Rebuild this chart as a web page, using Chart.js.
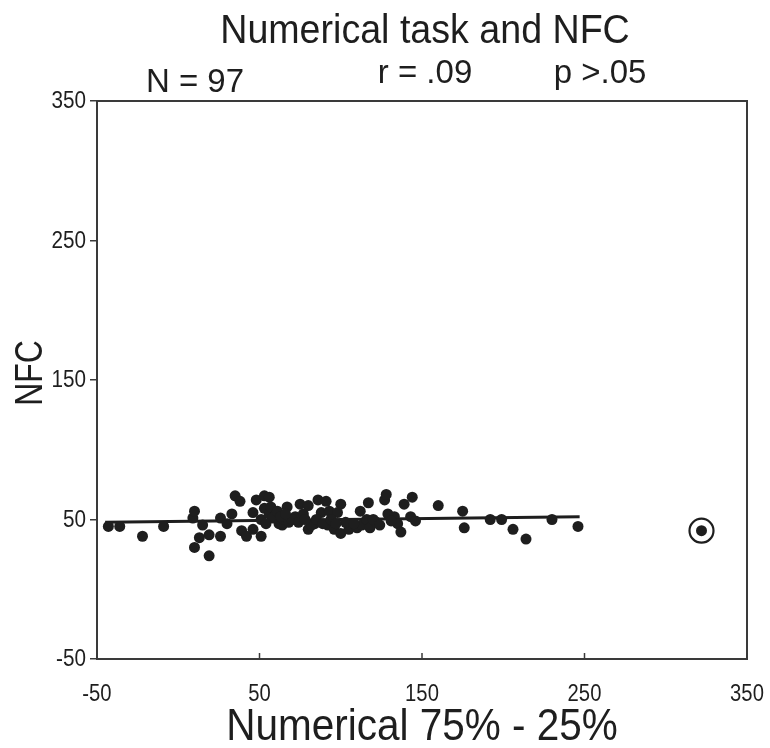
<!DOCTYPE html>
<html>
<head>
<meta charset="utf-8">
<script src="https://cdn.jsdelivr.net/npm/chart.js@4/dist/chart.umd.min.js"></script>
<style>
  html, body { margin: 0; padding: 0; background: #fff; }
  #wrap { width: 770px; height: 748px; }
</style>
</head>
<body>
<div id="wrap"><canvas id="c" width="770" height="748"></canvas></div>
<script>
// Participants: numerical spread (75% - 25%) against NFC score
const numericalSpread = [
  -43, -36, -22, -9, 9, 10, 10, 13, 15, 19, 19, 26, 26, 30, 33, 35, 38, 39, 42, 46,
  46, 48, 51, 51, 53, 53, 56, 56, 57, 60, 62, 64, 65, 67, 68, 72, 75, 80, 80, 84,
  86, 88, 91, 92, 93, 96, 98, 100, 100, 105, 110, 112, 113, 117, 116, 118, 122, 127, 128, 129,
  133, 135, 137, 139, 144, 143, 146, 160, 175, 176, 192, 199, 206, 214, 230, 246,
  58, 61, 63, 70, 74, 77, 82, 85, 89, 94, 103, 108, 120, 124, 131, 54, 66, 78, 97, 322
];
const nfcScore = [
  45, 45, 38, 45, 51, 56, 30, 37, 46, 39, 24, 38, 51, 47, 54, 67, 63, 42, 38, 43,
  55, 64, 38, 50, 67, 58, 66, 54, 59, 53, 47, 46, 50, 59, 48, 52, 61, 60, 43, 47,
  64, 55, 63, 46, 56, 43, 55, 61, 40, 43, 44, 56, 46, 62, 50, 44, 48, 64, 68, 54,
  52, 47, 41, 61, 66, 52, 49, 60, 56, 44, 50, 50, 43, 36, 50, 45,
  51, 56, 52, 50, 48, 54, 46, 50, 47, 50, 48, 47, 50, 46, 49, 47, 54, 50, 47, 42
];
// Flagged outlier (drawn with a ring)
const outlierX = [322];
const outlierY = [42];
// Least-squares fit line endpoints
const fitX = [-45, 247];
const fitY = [48, 52];
const axisTicks = [-50, 50, 150, 250, 350];

const titleText = 'Numerical task and NFC';
const statN = 'N = 97';
const statR = 'r = .09';
const statP = 'p >.05';
const xTitle = 'Numerical 75% - 25%';
const yTitle = 'NFC';

const FONT = '"Liberation Sans", Arial, sans-serif';
const INK = '#1e1e1e';
const AXIS = '#3a3a3a';

const points = numericalSpread.map((x, i) => ({ x, y: nfcScore[i] }));
const ring = outlierX.map((x, i) => ({ x, y: outlierY[i] }));
const fit = fitX.map((x, i) => ({ x, y: fitY[i] }));

// Text in a horizontally condensed face
function condensed(ctx, text, x, y, size, squeeze, align, rotate) {
  ctx.save();
  ctx.translate(x, y);
  if (rotate) ctx.rotate(rotate);
  ctx.scale(squeeze, 1);
  ctx.font = size + 'px ' + FONT;
  ctx.textAlign = align || 'center';
  ctx.fillText(text, 0, 0);
  ctx.restore();
}

const decor = {
  id: 'decor',
  afterDraw(chart) {
    const { ctx, chartArea: a, scales } = chart;
    ctx.save();
    // frame
    ctx.strokeStyle = AXIS;
    ctx.lineWidth = 2;
    ctx.strokeRect(a.left, a.top, a.right - a.left, a.bottom - a.top);
    // inward x ticks
    ctx.lineWidth = 1.5;
    scales.x.ticks.forEach(t => {
      const px = scales.x.getPixelForValue(t.value);
      ctx.beginPath();
      ctx.moveTo(px, a.bottom);
      ctx.lineTo(px, a.bottom - 6);
      ctx.stroke();
    });
    ctx.fillStyle = INK;
    ctx.textBaseline = 'alphabetic';
    // tick labels
    scales.x.ticks.forEach(t => {
      const px = scales.x.getPixelForValue(t.value);
      condensed(ctx, String(t.value), px, 701, 23, 0.88, 'center');
    });
    ctx.textBaseline = 'middle';
    scales.y.ticks.forEach(t => {
      const py = scales.y.getPixelForValue(t.value);
      condensed(ctx, String(t.value), 86, py + 1, 23, 0.9, 'right');
    });
    ctx.textBaseline = 'alphabetic';
    // titles
    condensed(ctx, titleText, 425, 43, 40, 0.94, 'center');
    condensed(ctx, statN, 195, 92, 33, 1, 'center');
    condensed(ctx, statR, 425, 83, 33, 1, 'center');
    condensed(ctx, statP, 600, 83, 33, 1, 'center');
    condensed(ctx, xTitle, 422, 740, 45, 0.9, 'center');
    condensed(ctx, yTitle, 42, 373, 38, 0.84, 'center', -Math.PI / 2);
    ctx.restore();
  }
};

new Chart(document.getElementById('c'), {
  type: 'scatter',
  data: {
    datasets: [
      {
        label: 'fit',
        type: 'line',
        data: fit,
        borderColor: INK,
        borderWidth: 3,
        pointRadius: 0,
        fill: false,
        order: 2
      },
      {
        label: 'participants',
        data: points,
        backgroundColor: INK,
        borderColor: INK,
        pointRadius: 5.5,
        pointBorderWidth: 0,
        order: 1
      },
      {
        label: 'outlier ring',
        data: ring,
        backgroundColor: 'rgba(0,0,0,0)',
        borderColor: INK,
        pointRadius: 12,
        pointBorderWidth: 2.2,
        order: 0
      }
    ]
  },
  options: {
    responsive: false,
    animation: false,
    devicePixelRatio: 1,
    layout: { padding: { top: 101, right: 23, left: 0, bottom: 0 } },
    plugins: {
      legend: { display: false },
      tooltip: { enabled: false },
      title: { display: false }
    },
    scales: {
      x: {
        type: 'linear',
        min: -50, max: 350,
        afterBuildTicks(s) { s.ticks = axisTicks.map(v => ({ value: v })); },
        afterFit(s) { s.height = 89; },
        grid: { display: false, drawTicks: false },
        border: { display: false },
        ticks: { display: false }
      },
      y: {
        type: 'linear',
        min: -50, max: 350,
        afterBuildTicks(s) { s.ticks = axisTicks.map(v => ({ value: v })); },
        afterFit(s) { s.width = 97; },
        grid: { drawOnChartArea: false, tickLength: 7, color: AXIS, lineWidth: 1.5 },
        border: { display: false },
        ticks: { display: false }
      }
    }
  },
  plugins: [decor]
});
</script>
</body>
</html>
